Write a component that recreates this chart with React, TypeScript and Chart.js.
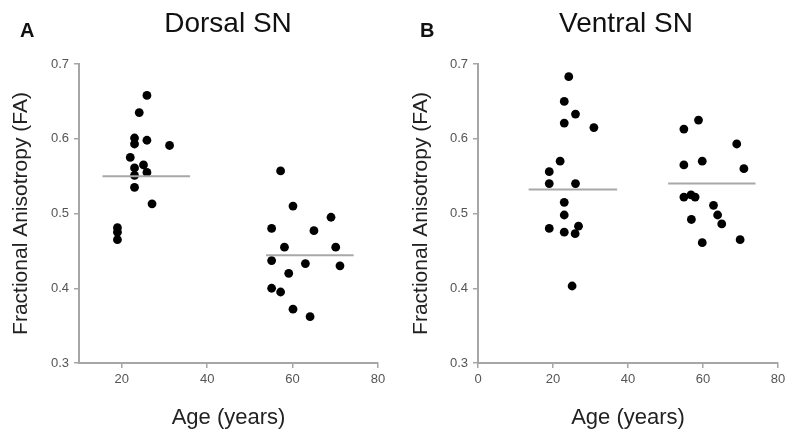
import React, { useEffect, useRef } from "react";
import { Chart, registerables } from "chart.js";

Chart.register(...registerables);

// ---------- Data ----------
// Panel A: Dorsal SN
const dorsalYoungAge = [25.9, 24.1, 23.0, 23.0, 25.9, 31.2, 22.0, 23.0, 25.1, 23.0, 25.9, 23.0, 27.1, 19.0, 19.0, 19.0];
const dorsalYoungFA = [0.658, 0.635, 0.601, 0.593, 0.598, 0.591, 0.575, 0.561, 0.565, 0.551, 0.555, 0.535, 0.513, 0.481, 0.475, 0.465];
const dorsalOldAge = [57.2, 60.1, 69.0, 55.1, 65.0, 58.1, 70.1, 55.1, 63.0, 71.1, 59.1, 55.1, 57.2, 60.1, 64.1];
const dorsalOldFA = [0.557, 0.510, 0.495, 0.480, 0.477, 0.455, 0.455, 0.437, 0.433, 0.430, 0.420, 0.400, 0.395, 0.372, 0.362];
const dorsalYoungMeanAge = [15.5, 36.0];
const dorsalYoungMean = 0.55;
const dorsalOldMeanAge = [53.8, 74.3];
const dorsalOldMean = 0.444;

// Panel B: Ventral SN
const ventralYoungAge = [24.2, 23.0, 26.0, 23.0, 30.9, 21.9, 19.0, 19.0, 26.0, 23.0, 23.0, 19.0, 23.0, 26.8, 25.9, 25.1];
const ventralYoungFA = [0.683, 0.650, 0.633, 0.621, 0.615, 0.570, 0.556, 0.540, 0.540, 0.515, 0.498, 0.480, 0.475, 0.483, 0.473, 0.403];
const ventralOldAge = [58.8, 54.9, 69.0, 54.9, 59.8, 70.9, 54.9, 56.8, 57.9, 62.8, 63.9, 56.9, 65.0, 59.8, 69.9];
const ventralOldFA = [0.625, 0.613, 0.593, 0.565, 0.570, 0.560, 0.522, 0.525, 0.522, 0.511, 0.498, 0.492, 0.486, 0.461, 0.465];
const ventralYoungMeanAge = [13.5, 37.1];
const ventralYoungMean = 0.532;
const ventralOldMeanAge = [50.7, 74.0];
const ventralOldMean = 0.54;

const yTicks = [0.3, 0.4, 0.5, 0.6, 0.7];
const xTicksA = [20, 40, 60, 80];
const xTicksB = [0, 20, 40, 60, 80];

const yTitle = "Fractional Anisotropy (FA)";
const xTitle = "Age (years)";

// ---------- Helpers ----------
const FONT = "'Liberation Sans', Arial, Helvetica, sans-serif";
const AXIS_GREY = "#a6a6a6";
const TICK_TEXT = "#555555";

const zip = (xs: number[], ys: number[]) => xs.map((x, i) => ({ x, y: ys[i] }));
const meanLine = (ages: number[], v: number) => ages.map((a) => ({ x: a, y: v }));

const headerPlugin = {
  id: "panelHeader",
  afterDraw(chart: any, _args: any, opts: any) {
    const ctx = chart.ctx;
    ctx.save();
    ctx.fillStyle = "#111";
    ctx.textBaseline = "alphabetic";
    ctx.textAlign = "left";
    ctx.font = `bold 20px ${FONT}`;
    ctx.fillText(opts.letter, opts.letterX, 37);
    ctx.textAlign = "center";
    ctx.font = `28px ${FONT}`;
    ctx.fillText(opts.title, opts.titleX, 32);
    ctx.restore();
  },
};

type PanelProps = {
  letter: string;
  title: string;
  letterX: number;
  titleX: number;
  youngAge: number[];
  youngFA: number[];
  oldAge: number[];
  oldFA: number[];
  yMeanAge: number[];
  yMean: number;
  oMeanAge: number[];
  oMean: number;
  xMin: number;
  xTicks: number[];
  yAxisWidth: number;
};

function Panel(p: PanelProps) {
  const ref = useRef<HTMLCanvasElement | null>(null);
  useEffect(() => {
    if (!ref.current) return;
    const pointStyle = {
      pointRadius: 4.4,
      pointBackgroundColor: "#000",
      pointBorderColor: "#000",
      pointBorderWidth: 0,
      showLine: false,
    };
    const lineStyle = {
      showLine: true,
      borderColor: "#a8a8a8",
      borderWidth: 2,
      pointRadius: 0,
      fill: false,
    };
    const chart = new Chart(ref.current, {
      type: "scatter",
      data: {
        datasets: [
          { label: "mean young", data: meanLine(p.yMeanAge, p.yMean), ...lineStyle } as any,
          { label: "mean old", data: meanLine(p.oMeanAge, p.oMean), ...lineStyle } as any,
          { label: "young", data: zip(p.youngAge, p.youngFA), ...pointStyle } as any,
          { label: "old", data: zip(p.oldAge, p.oldFA), ...pointStyle } as any,
        ],
      },
      options: {
        responsive: false,
        animation: false,
        layout: { padding: { top: 64, right: 22, bottom: 0, left: 0 } },
        plugins: {
          legend: { display: false },
          tooltip: { enabled: false },
          title: { display: false },
          panelHeader: { letter: p.letter, title: p.title, letterX: p.letterX, titleX: p.titleX },
        } as any,
        scales: {
          x: {
            type: "linear",
            min: p.xMin,
            max: 80,
            afterBuildTicks: (scale: any) => {
              scale.ticks = p.xTicks.map((v) => ({ value: v }));
            },
            afterFit: (scale: any) => {
              scale.height = 73;
            },
            border: { display: true, color: AXIS_GREY, width: 2 },
            grid: { display: true, drawOnChartArea: false, drawTicks: true, tickLength: 5, color: AXIS_GREY, lineWidth: 1.5 },
            ticks: { color: TICK_TEXT, font: { family: FONT, size: 13 }, padding: 4, maxRotation: 0 },
            title: { display: true, text: xTitle, color: "#222", font: { family: FONT, size: 22 }, padding: { top: 0, bottom: 5 } },
          },
          y: {
            type: "linear",
            min: 0.3,
            max: 0.7,
            afterBuildTicks: (scale: any) => {
              scale.ticks = yTicks.map((v) => ({ value: v }));
            },
            afterFit: (scale: any) => {
              scale.width = p.yAxisWidth;
            },
            border: { display: true, color: AXIS_GREY, width: 2 },
            grid: { display: true, drawOnChartArea: false, drawTicks: true, tickLength: 5, color: AXIS_GREY, lineWidth: 1.5 },
            ticks: {
              color: TICK_TEXT,
              font: { family: FONT, size: 13 },
              padding: 5,
              callback: (v: any) => Number(v).toFixed(1),
            },
            title: { display: true, text: yTitle, color: "#222", font: { family: FONT, size: 21 }, padding: { top: 9, bottom: 0 } },
          },
        },
      },
      plugins: [headerPlugin as any],
    });
    return () => chart.destroy();
  }, []);
  return <canvas ref={ref} width={400} height={436} style={{ display: "block", width: 400, height: 436 }} />;
}

export default function App() {
  return (
    <div style={{ position: "absolute", left: 0, top: 0, width: 800, height: 436, background: "#fff", display: "flex" }}>
      <Panel
        letter="A"
        title="Dorsal SN"
        letterX={20}
        titleX={228}
        youngAge={dorsalYoungAge}
        youngFA={dorsalYoungFA}
        oldAge={dorsalOldAge}
        oldFA={dorsalOldFA}
        yMeanAge={dorsalYoungMeanAge}
        yMean={dorsalYoungMean}
        oMeanAge={dorsalOldMeanAge}
        oMean={dorsalOldMean}
        xMin={10}
        xTicks={xTicksA}
        yAxisWidth={79}
      />
      <Panel
        letter="B"
        title="Ventral SN"
        letterX={20}
        titleX={226}
        youngAge={ventralYoungAge}
        youngFA={ventralYoungFA}
        oldAge={ventralOldAge}
        oldFA={ventralOldFA}
        yMeanAge={ventralYoungMeanAge}
        yMean={ventralYoungMean}
        oMeanAge={ventralOldMeanAge}
        oMean={ventralOldMean}
        xMin={0}
        xTicks={xTicksB}
        yAxisWidth={78}
      />
    </div>
  );
}
